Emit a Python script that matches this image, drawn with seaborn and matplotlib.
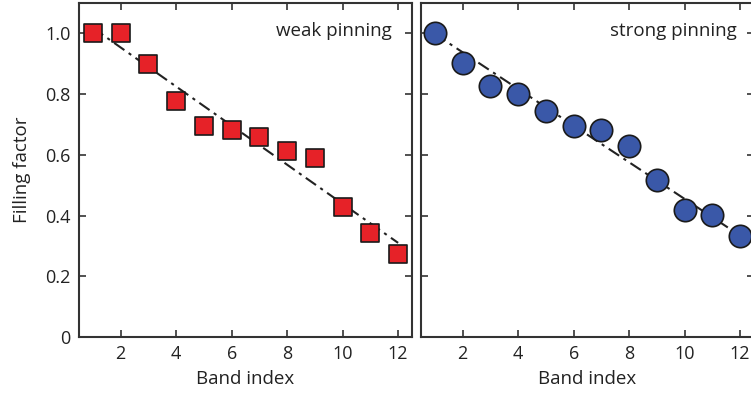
import numpy as np
import pandas as pd
import matplotlib
matplotlib.use("Agg")
import matplotlib.pyplot as plt
import seaborn as sns

band = list(range(1, 13))
weak = [1.0, 1.0, 0.898, 0.777, 0.694, 0.683, 0.658, 0.613, 0.589, 0.429, 0.344, 0.275]
strong = [1.0, 0.902, 0.826, 0.80, 0.743, 0.696, 0.683, 0.63, 0.516, 0.418, 0.401, 0.334]
weak_fit_x = [1, 12]
weak_fit_y = [1.018, 0.31]
strong_fit_x = [1, 12]
strong_fit_y = [0.998, 0.334]
xticks = [2, 4, 6, 8, 10, 12]
yticks = [0, 0.2, 0.4, 0.6, 0.8, 1.0]
yticklabels = ["0", "0.2", "0.4", "0.6", "0.8", "1.0"]

sns.set_style("ticks")
plt.rcParams['font.family'] = ['Open Sans', 'DejaVu Sans']

fig = plt.figure(figsize=(7.51, 3.95), dpi=100)
ax1 = fig.add_axes([79/751, 1-337/395, 333/751, 334/395])
ax2 = fig.add_axes([421/751, 1-337/395, 333/751, 334/395])

spine_c = "#333333"
dash = (0, (6, 2.5, 1.5, 2.5))

def style(ax, show_y):
    ax.set_xlim(0.5, 12.5)
    ax.set_ylim(0, 1.1)
    ax.set_xticks(xticks)
    ax.set_yticks(yticks)
    if show_y:
        ax.set_yticklabels(yticklabels)
        ax.set_ylabel("Filling factor", fontsize=13.5, color="#222222", labelpad=10)
    else:
        ax.set_yticklabels([])
        ax.set_ylabel("")
    ax.set_xlabel("Band index", fontsize=13.5, color="#222222", labelpad=5)
    ax.tick_params(direction="in", length=5, width=1.2, color=spine_c,
                   top=True, right=True, labelsize=13, labelcolor="#222222", pad=6)
    for s in ax.spines.values():
        s.set_color(spine_c)
        s.set_linewidth(1.5)
        s.set_visible(True)

sns.lineplot(x=weak_fit_x, y=weak_fit_y, ax=ax1, color="#222222", lw=1.5, linestyle=dash, zorder=2)
sns.scatterplot(x=band, y=weak, ax=ax1, marker="s", s=150, color="#e62228",
                edgecolor="#1a1a1a", linewidth=1.2, zorder=3, clip_on=False)
sns.lineplot(x=strong_fit_x, y=strong_fit_y, ax=ax2, color="#222222", lw=1.5, linestyle=dash, zorder=2)
sns.scatterplot(x=band, y=strong, ax=ax2, marker="o", s=260, color="#3a58a8",
                edgecolor="#1a1a1a", linewidth=1.2, zorder=3, clip_on=False)

style(ax1, True)
style(ax2, False)

ax1.text(0.94, 0.916, "weak pinning", transform=ax1.transAxes, ha="right", va="center",
         fontsize=13.5, color="#222222")
ax2.text(0.947, 0.916, "strong pinning", transform=ax2.transAxes, ha="right", va="center",
         fontsize=13.5, color="#222222")

fig.savefig("out.png", dpi=100)
